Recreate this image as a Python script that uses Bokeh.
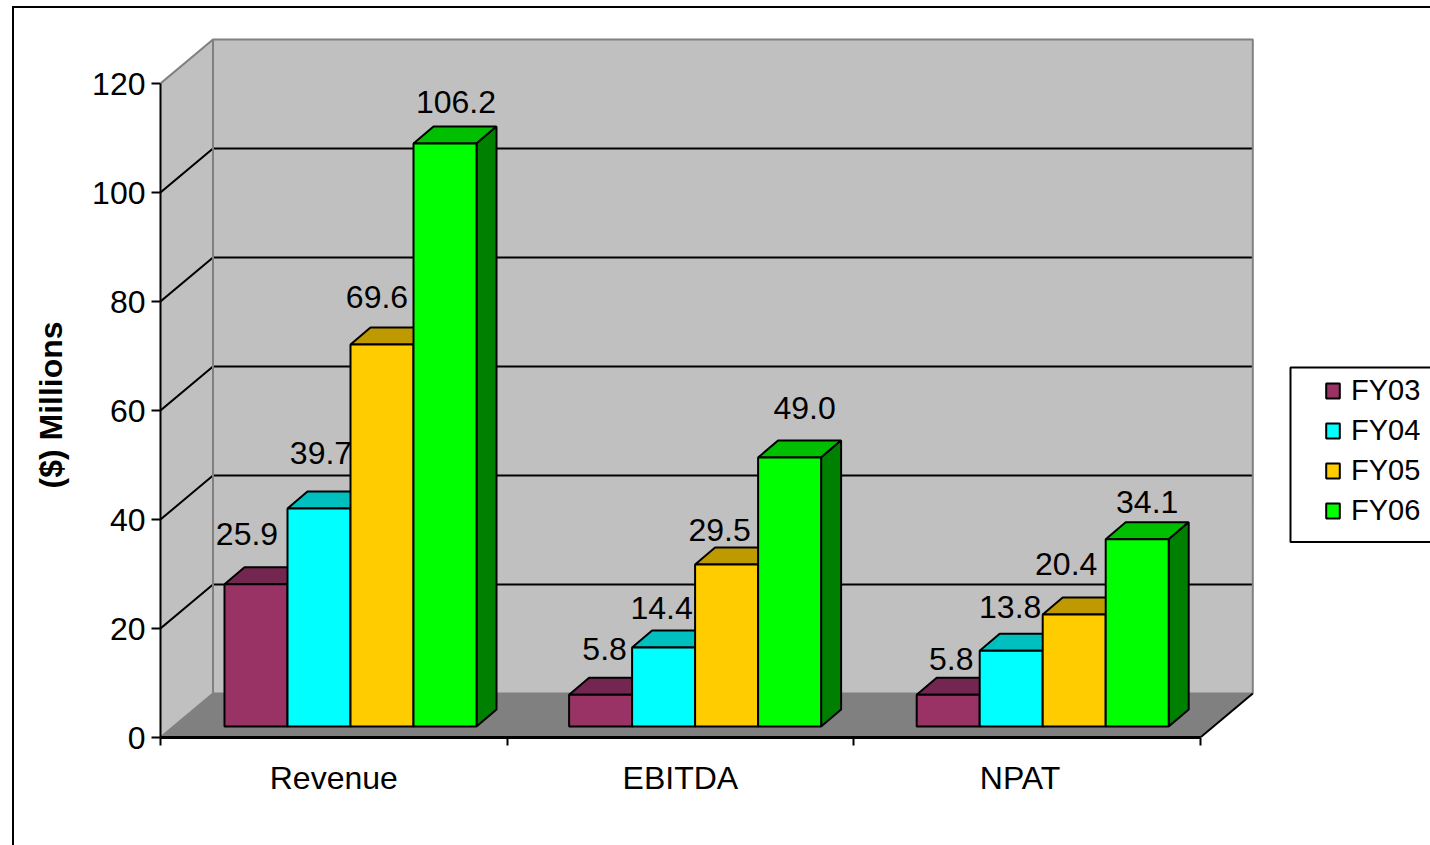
from bokeh.embed import file_html
from bokeh.resources import INLINE
from bokeh.core.properties import value
from bokeh.models import (BoxAnnotation, FixedTicker, InlineStyleSheet, Legend, LegendItem, Range1d, Title)
from bokeh.plotting import figure

# Chart values
categories = ["Revenue", "EBITDA", "NPAT"]
series_names = ["FY03", "FY04", "FY05", "FY06"]
fy03 = [25.9, 5.8, 5.8]
fy04 = [39.7, 14.4, 13.8]
fy05 = [69.6, 29.5, 20.4]
fy06 = [106.2, 49.0, 34.1]
y_ticks = [0, 20, 40, 60, 80, 100, 120]

# Face colours per series: front, top, side
front_colors = ["#993366", "#00FFFF", "#FFCC00", "#00FF00"]
top_colors = ["#732650", "#00BFBF", "#BF9900", "#00BF00"]
side_colors = ["#4D1A33", "#008080", "#806600", "#008000"]

# Canvas layout, in pixels
W, H = 1430, 845
FRAME_LEFT, FRAME_BOTTOM = 160, 737
CAT_PX = 346.6            # width of one category on the floor's front edge
VAL_PX = 5.45             # pixels per value unit on the axis and walls
BAR_VAL_PX = 5.49         # pixels per value unit on the bars, set slightly deeper
WALL_DX, WALL_DY = 52.5, 44
BAR_BASE_DY = 11          # bars stand this far behind the floor's front edge
BAR_START_PX = [64, 62, 63]   # gap before each cluster of bars
BAR_W_PX = 63
BAR_DX, BAR_DY = 20, 17   # extrusion of each bar

# Hand-placed value label offsets from the centre of each bar's top, per series then category
label_dx = [[-9, 4, 3], [2, -2, -1], [-5, -7, -8], [11, 15, 10]]
label_dy = [[50, 46, 36], [56, 39, 44], [47, 35, 51], [41, 49, 37]]

FONT = "Liberation Sans"


def ux(px):
    return px / CAT_PX


def uy(px):
    return px / VAL_PX


p = figure(
    width=W, height=H, output_backend="svg", toolbar_location=None,
    x_range=Range1d(0, ux(W - FRAME_LEFT)), y_range=Range1d(0, uy(FRAME_BOTTOM)),
    x_axis_location="below", y_axis_location="left",
    min_border_left=FRAME_LEFT, min_border_right=0, min_border_top=0,
    min_border_bottom=H - FRAME_BOTTOM,
)
p.extra_y_ranges = {"bars": Range1d(-BAR_BASE_DY / BAR_VAL_PX, (FRAME_BOTTOM - BAR_BASE_DY) / BAR_VAL_PX)}
p.outline_line_color = None
p.grid.visible = False

# Outer chart border, open past the right and bottom edges of the page
p.stylesheets = [InlineStyleSheet(css="""
:host { overflow: hidden; }
:host::after {
  content: ""; position: absolute; left: 11.5px; top: 6px;
  width: 1500px; height: 1000px; border: 2px solid black;
  pointer-events: none; z-index: 10;
}
""")]

n_cat = len(categories)
top_val = y_ticks[-1]
wx, wy = ux(WALL_DX), uy(WALL_DY)

# Floor and walls of the box
p.patch([0, wx, n_cat + wx, n_cat], [0, wy, wy, 0], fill_color="#808080", line_color=None)
p.patch([0, wx, wx, 0], [0, wy, top_val + wy, top_val], fill_color="#C0C0C0", line_color=None)
p.quad(left=wx, right=n_cat + wx, bottom=wy, top=top_val + wy, fill_color="#C0C0C0", line_color=None)

# Gridlines run along the side wall and across the back wall
grid_values = [v for v in y_ticks[1:-1]]
p.multi_line(
    xs=[[0, wx, n_cat + wx] for _ in grid_values],
    ys=[[v, v + wy, v + wy] for v in grid_values],
    line_color="black", line_width=2,
)

# Wall outlines
wall_gray = "#808080"
p.multi_line(
    xs=[[0, wx], [0, wx, n_cat + wx, n_cat + wx, wx, wx]],
    ys=[[0, wy], [top_val, top_val + wy, top_val + wy, wy, wy, top_val + wy]],
    line_color=wall_gray, line_width=2,
)
p.line([n_cat, n_cat + wx], [0, wy], line_color="black", line_width=2)

# Bars: top and side faces first, then the front, so later series overlap earlier ones
series = [fy03, fy04, fy05, fy06]
bx, by = ux(BAR_DX), BAR_DY / BAR_VAL_PX
front_renderers = []
for s, vals in enumerate(series):
    lefts = [c + ux(BAR_START_PX[c] + s * BAR_W_PX) for c in range(n_cat)]
    rights = [l + ux(BAR_W_PX) for l in lefts]
    p.patches(
        xs=[[l, l + bx, r + bx, r] for l, r in zip(lefts, rights)],
        ys=[[v, v + by, v + by, v] for v in vals],
        fill_color=top_colors[s], line_color="black", line_width=2, y_range_name="bars",
    )
    p.patches(
        xs=[[r, r + bx, r + bx, r] for r in rights],
        ys=[[0, by, v + by, v] for v in vals],
        fill_color=side_colors[s], line_color="black", line_width=2, y_range_name="bars",
    )
    front_renderers.append(p.quad(
        left=lefts, right=rights, bottom=0, top=vals,
        fill_color=front_colors[s], line_color="black", line_width=2, y_range_name="bars",
    ))

# Value labels above the bars
for s, vals in enumerate(series):
    centres = [c + ux(BAR_START_PX[c] + (s + 0.5) * BAR_W_PX) for c in range(n_cat)]
    p.text(
        x=centres, y=vals, text=[f"{v:.1f}" for v in vals],
        x_offset=label_dx[s], y_offset=[-d for d in label_dy[s]],
        text_align="center", text_baseline="middle", text_color="black",
        text_font=value(FONT), text_font_size="32px", y_range_name="bars",
    )

# Value axis
ya = p.yaxis[0]
ya.ticker = FixedTicker(ticks=y_ticks)
ya.bounds = (0, top_val)
ya.major_label_text_font = FONT
ya.major_label_text_font_size = "32px"
ya.major_label_text_color = "black"
ya.major_label_standoff = 6
ya.major_tick_in = 0
ya.major_tick_out = 9
ya.major_tick_line_width = 2
ya.major_tick_line_color = "black"
ya.minor_tick_line_color = None
ya.axis_line_width = 2
ya.axis_line_color = "black"

# The value axis title sits below the middle of the tall frame, so it is a side title with an offset
p.add_layout(Title(
    text="($) Millions", align="left", offset=249, standoff=42,
    text_font=FONT, text_font_style="bold", text_font_size="32px", text_color="black",
), "left")

# Category axis: labels sit on the major ticks, separators are the minor ticks
xa = p.xaxis[0]
label_positions = [0.5, 1.5, 2.48]
xa.ticker = FixedTicker(ticks=label_positions, minor_ticks=list(range(n_cat + 1)))
xa.major_label_overrides = dict(zip(label_positions, categories))
xa.bounds = (0, n_cat)
xa.major_label_text_font = FONT
xa.major_label_text_font_size = "32px"
xa.major_label_text_color = "black"
xa.major_label_standoff = 14
xa.major_tick_in = 0
xa.major_tick_out = 0
xa.minor_tick_in = 0
xa.minor_tick_out = 8
xa.minor_tick_line_width = 2
xa.minor_tick_line_color = "black"
xa.axis_line_width = 3
xa.axis_line_color = "black"

# Legend frame, open past the right edge of the page
p.add_layout(BoxAnnotation(
    left=1290, right=W + 40, top=367, bottom=541.5,
    left_units="canvas", right_units="canvas", top_units="canvas", bottom_units="canvas",
    fill_color="white", fill_alpha=1, line_color="black", line_alpha=1, line_width=2, level="glyph",
))

legend = Legend(
    items=[LegendItem(label=name, renderers=[r]) for name, r in zip(series_names, front_renderers)],
    location=(1324 - FRAME_LEFT, FRAME_BOTTOM - 527),
    orientation="vertical", padding=0, margin=0, spacing=7,
    glyph_width=17, glyph_height=19, label_standoff=10,
    label_text_font=FONT, label_text_font_size="29px", label_text_color="black",
    border_line_color=None, background_fill_alpha=0,
)
p.add_layout(legend)

open("out.html", "w").write(file_html(p, INLINE))
